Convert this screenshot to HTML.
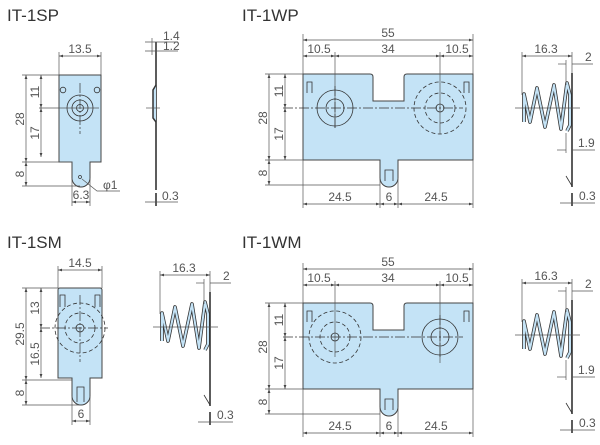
<!DOCTYPE html>
<html><head><meta charset="utf-8"><style>
html,body{margin:0;padding:0;background:#fff}
svg{display:block}
text{font-family:"Liberation Sans",sans-serif;fill:#555;font-size:12px}
.t{font-size:17px;fill:#333}
.o{fill:#c4e3f6;stroke:#444;stroke-width:1}
.d{stroke:#555;stroke-width:0.7;fill:none}
.da{stroke:#555;stroke-width:0.7;fill:none;marker-start:url(#a);marker-end:url(#a)}
.c{stroke:#333;stroke-width:0.8;fill:none}
.cd{stroke:#333;stroke-width:0.8;fill:none;stroke-dasharray:4 2.5}
.cl{stroke:#333;stroke-width:0.7;fill:none;stroke-dasharray:10 2 2 2}
.sp1{stroke:#333;stroke-width:3.6;fill:none;stroke-linejoin:round}
.sp2{stroke:#c4e3f6;stroke-width:2;fill:none;stroke-linejoin:round}
.pl{stroke:#333;stroke-width:1.6;fill:none}
</style></head><body>
<svg width="600" height="445" viewBox="0 0 600 445" xmlns="http://www.w3.org/2000/svg">
<defs>
<marker id="a" viewBox="0 0 10 10" refX="10" refY="5" markerWidth="6" markerHeight="6" orient="auto-start-reverse"><path d="M0,1.5 L10,5 L0,8.5z" fill="#444"/></marker>
<g id="spr">
<line class="pl" x1="572" y1="73" x2="572" y2="187"/><line class="pl" x1="572" y1="193" x2="572" y2="206"/>
<path class="c" d="M572,186 L566,176" stroke-width="1.4"/>
<polyline class="sp1" points="524,122 524,94 530,122 537,88 545,127 554,85 561,129 567,83 570,95 570,125 567,131"/>
<polyline class="sp2" points="524,122 524,94 530,122 537,88 545,127 554,85 561,129 567,83 570,95 570,125 567,131"/>
<line class="d" x1="515" y1="108" x2="580" y2="108"/>
<line class="d" x1="522" y1="52" x2="522" y2="95"/><line class="d" x1="572" y1="52" x2="572" y2="73"/>
<line class="da" x1="522" y1="56" x2="572" y2="56"/><text x="546" y="53" text-anchor="middle">16.3</text>
<line class="d" x1="566" y1="60" x2="566" y2="85"/>
<line class="d" x1="558" y1="64" x2="566" y2="64"/><line class="d" x1="572" y1="64" x2="593" y2="64"/>
<text x="585" y="61">2</text>
<line class="d" x1="560" y1="203" x2="595" y2="203"/><text x="579" y="200">0.3</text>
</g>
<g id="d19">
<line class="d" x1="566" y1="133" x2="566" y2="153"/>
<line class="d" x1="557" y1="150" x2="566" y2="150"/><line class="d" x1="572" y1="150" x2="595" y2="150"/><text x="578" y="147">1.9</text>
</g>
<g id="wp">
<path class="o" d="M303,74 H370 Q373,74 373,77 V101 H404 V77 Q404,74 407,74 H473 V160 H398 V178 A9,9 0 0 1 380,178 V160 H303 Z"/>
<path class="c" d="M307,93 V82 H312 V93 M469,93 V82 H464 V93 M385,181 V170 H393 V181"/>
<line class="d" x1="303" y1="34" x2="303" y2="74"/><line class="d" x1="473" y1="34" x2="473" y2="74"/>
<line class="da" x1="303" y1="40" x2="473" y2="40"/><text x="388" y="37" text-anchor="middle">55</text>
<line class="da" x1="303" y1="56" x2="335" y2="56"/><line class="da" x1="335" y1="56" x2="440" y2="56"/><line class="da" x1="440" y1="56" x2="473" y2="56"/>
<text x="319" y="53" text-anchor="middle">10.5</text><text x="388" y="53" text-anchor="middle">34</text><text x="457" y="53" text-anchor="middle">10.5</text>
<line class="d" x1="335" y1="52" x2="335" y2="128"/><line class="d" x1="440" y1="52" x2="440" y2="134"/>
<line class="cl" x1="283" y1="108" x2="463" y2="108"/>
<line class="d" x1="265" y1="74" x2="303" y2="74"/><line class="d" x1="265" y1="160" x2="303" y2="160"/><line class="d" x1="265" y1="185" x2="380" y2="185"/>
<line class="da" x1="269" y1="74" x2="269" y2="160"/><line class="da" x1="269" y1="160" x2="269" y2="185"/>
<line class="da" x1="285" y1="74" x2="285" y2="108"/><line class="da" x1="285" y1="108" x2="285" y2="160"/>
<text transform="translate(267,118) rotate(-90)" text-anchor="middle">28</text>
<text transform="translate(283,91) rotate(-90)" text-anchor="middle">11</text>
<text transform="translate(283,134) rotate(-90)" text-anchor="middle">17</text>
<text transform="translate(267,173) rotate(-90)" text-anchor="middle">8</text>
<line class="d" x1="303" y1="160" x2="303" y2="208"/><line class="d" x1="473" y1="160" x2="473" y2="208"/>
<line class="d" x1="380" y1="178" x2="380" y2="208"/><line class="d" x1="398" y1="178" x2="398" y2="208"/>
<line class="da" x1="303" y1="204" x2="380" y2="204"/><line class="da" x1="380" y1="204" x2="398" y2="204"/><line class="da" x1="398" y1="204" x2="473" y2="204"/>
<text x="340" y="201" text-anchor="middle">24.5</text><text x="389" y="201" text-anchor="middle">6</text><text x="436" y="201" text-anchor="middle">24.5</text>
</g>
</defs>

<!-- ============ IT-1SP ============ -->
<text class="t" x="7" y="21">IT-1SP</text>
<path class="o" d="M59,75 H101 V162 H90 V178 A9,9 0 0 1 72,178 V162 H59 Z"/>
<circle class="c" cx="63" cy="90" r="2.8"/><circle class="c" cx="97" cy="90" r="2.8"/>
<circle class="c" cx="80" cy="108" r="13"/><circle class="c" cx="80" cy="108" r="8"/><circle class="c" cx="80" cy="108" r="3.5"/>
<line class="cl" x1="80" y1="83" x2="80" y2="134"/><line class="d" x1="39" y1="108" x2="99" y2="108"/>
<circle cx="80" cy="177" r="1.5" fill="none" stroke="#333" stroke-width="0.7"/>
<polyline class="d" points="82,179 97,191 120,191"/><text x="103" y="189">φ1</text>
<line class="d" x1="59" y1="52" x2="59" y2="75"/><line class="d" x1="101" y1="52" x2="101" y2="75"/>
<line class="da" x1="59" y1="56" x2="101" y2="56"/><text x="80" y="53" text-anchor="middle">13.5</text>
<line class="d" x1="22" y1="75" x2="59" y2="75"/><line class="d" x1="22" y1="162" x2="72" y2="162"/><line class="d" x1="22" y1="186" x2="80" y2="186"/>
<line class="da" x1="26" y1="75" x2="26" y2="162"/><line class="da" x1="26" y1="162" x2="26" y2="186"/>
<line class="da" x1="41" y1="75" x2="41" y2="108"/><line class="da" x1="41" y1="108" x2="41" y2="157"/>
<text transform="translate(24,119) rotate(-90)" text-anchor="middle">28</text>
<text transform="translate(39,92) rotate(-90)" text-anchor="middle">11</text>
<text transform="translate(39,133) rotate(-90)" text-anchor="middle">17</text>
<text transform="translate(24,174) rotate(-90)" text-anchor="middle">8</text>
<line class="d" x1="72" y1="178" x2="72" y2="206"/><line class="d" x1="90" y1="178" x2="90" y2="206"/>
<line class="da" x1="72" y1="202" x2="90" y2="202"/><text x="81" y="199" text-anchor="middle">6.3</text>
<line class="pl" x1="156" y1="42" x2="156" y2="190"/><line class="pl" x1="156" y1="193" x2="156" y2="206"/>
<path d="M156,85 L153,90 L153,118 L156,122" stroke="#333" stroke-width="1.5" fill="#c4e3f6"/>
<line class="d" x1="146" y1="108" x2="160" y2="108"/>
<line class="d" x1="145" y1="42" x2="178" y2="42"/><line class="d" x1="145" y1="51" x2="178" y2="51"/>
<line class="d" x1="152" y1="38" x2="152" y2="55"/>
<text x="163" y="40">1.4</text><text x="163" y="50">1.2</text>
<line class="d" x1="145" y1="202" x2="178" y2="202"/><text x="162" y="200">0.3</text>

<!-- ============ IT-1WP ============ -->
<text class="t" x="242" y="21">IT-1WP</text>
<use href="#wp"/>
<circle class="c" cx="335" cy="108" r="18"/><circle class="c" cx="335" cy="108" r="9"/>
<circle class="cd" cx="440" cy="108" r="26"/><circle class="cd" cx="440" cy="108" r="15"/><circle class="c" cx="440" cy="108" r="4" fill="#fff"/>
<line class="cl" x1="335" y1="86" x2="335" y2="128"/>
<use href="#spr"/>
<use href="#d19"/>

<!-- ============ IT-1SM ============ -->
<text class="t" x="7" y="248">IT-1SM</text>
<path class="o" d="M58,290 Q58,288 60,288 H100 Q102,288 102,290 V378 H90 V396 A9,9 0 0 1 72,396 V378 H58 Z"/>
<path class="c" d="M60,307 V295 H65 V307 M100,307 V295 H95 V307 M77,402 V387 H84 V402"/>
<circle class="cd" cx="80" cy="328" r="25"/><circle class="cd" cx="80" cy="328" r="15"/><circle class="c" cx="80" cy="328" r="4" fill="#fff"/>
<line class="cl" x1="80" y1="295" x2="80" y2="362"/><line class="cl" x1="40" y1="328" x2="108" y2="328"/>
<line class="d" x1="58" y1="266" x2="58" y2="288"/><line class="d" x1="102" y1="266" x2="102" y2="288"/>
<line class="da" x1="58" y1="270" x2="102" y2="270"/><text x="80" y="267" text-anchor="middle">14.5</text>
<line class="d" x1="22" y1="288" x2="58" y2="288"/><line class="d" x1="22" y1="380" x2="72" y2="380"/><line class="d" x1="22" y1="405" x2="80" y2="405"/>
<line class="da" x1="26" y1="288" x2="26" y2="380"/><line class="da" x1="26" y1="380" x2="26" y2="405"/>
<line class="da" x1="41" y1="288" x2="41" y2="328"/><line class="da" x1="41" y1="328" x2="41" y2="378"/>
<text transform="translate(24,334) rotate(-90)" text-anchor="middle">29.5</text>
<text transform="translate(39,308) rotate(-90)" text-anchor="middle">13</text>
<text transform="translate(39,354) rotate(-90)" text-anchor="middle">16.5</text>
<text transform="translate(24,393) rotate(-90)" text-anchor="middle">8</text>
<line class="d" x1="72" y1="396" x2="72" y2="425"/><line class="d" x1="90" y1="396" x2="90" y2="425"/>
<line class="da" x1="72" y1="421" x2="90" y2="421"/><text x="81" y="418" text-anchor="middle">6</text>
<use href="#spr" transform="translate(-362,219)"/>

<!-- ============ IT-1WM ============ -->
<text class="t" x="242" y="248">IT-1WM</text>
<use href="#wp" transform="translate(0,229)"/>
<circle class="cd" cx="335" cy="337" r="26"/><circle class="cd" cx="335" cy="337" r="15"/><circle class="c" cx="335" cy="337" r="4" fill="#fff"/>
<circle class="c" cx="440" cy="337" r="18"/><circle class="c" cx="440" cy="337" r="9"/>
<line class="cl" x1="440" y1="315" x2="440" y2="357"/>
<use href="#spr" transform="translate(0,227)"/>
<use href="#d19" transform="translate(0,227)"/>
</svg>
</body></html>
